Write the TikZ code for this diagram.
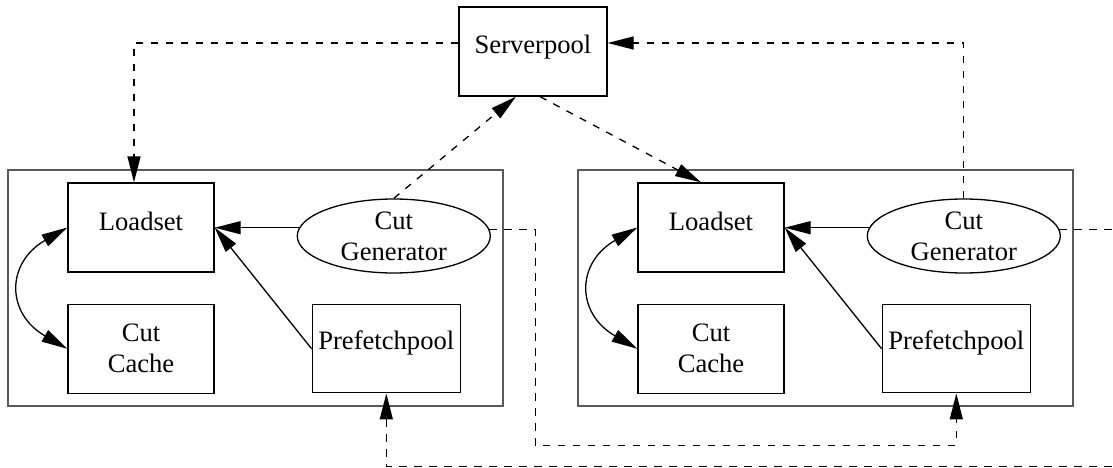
\documentclass[tikz,border=0pt]{standalone}
\usepackage{fontspec}
\setmainfont{Liberation Serif}
\usetikzlibrary{shapes.geometric, arrows.meta, positioning}

\begin{document}
\begin{tikzpicture}[x=0.5pt, y=0.5pt, font=\fontsize{13.3}{15.5}\selectfont,
    hostbox/.style={rectangle, draw=black!65, line width=0.6pt, minimum width=247.5pt,
      minimum height=118pt, inner sep=0pt},
    part/.style={rectangle, draw, line width=0.65pt, minimum width=73pt, minimum height=44.5pt,
      inner sep=0pt, align=center},
    gen/.style={ellipse, draw, line width=0.65pt, minimum width=96.5pt, minimum height=37pt,
      inner sep=0pt, align=center},
    flow/.style={-{Triangle[length=13pt, width=6.5pt]}, line width=0.65pt},
    msg/.style={flow, dash pattern=on 3.6pt off 3.9pt}]

    \path[use as bounding box, clip] (0,0) rectangle (1113,467);

    \node (sp) [part, minimum width=74pt, text height=9.2pt, text depth=7.7pt] at (533,415.5) {Serverpool};

    % two identical hosts
    \foreach \g/\dx in {a/0, b/570} {
      \node (host-\g) [hostbox] at (255.5+\dx,179) {};
      \node (ls-\g) [part, text height=9.2pt, text depth=6.7pt] at (141+\dx,239.5) {Loadset};
      \node (cc-\g) [part, below=15.5pt of ls-\g] {Cut\\Cache};
      \node (pf-\g) [part, minimum width=74pt, minimum height=44pt, text height=9.2pt, text depth=8.2pt,
        right=48.5pt of cc-\g] {Prefetchpool};
      \node (cg-\g) [gen, right=41pt of ls-\g, yshift=-4.25pt] {Cut\\Generator};

      \draw [flow] (cg-\g.175) -- (cg-\g.175 -| ls-\g.east);
      \draw [flow] (pf-\g.west) -- (ls-\g.east);
      \draw [{Triangle[length=13pt, width=6.5pt]}-{Triangle[length=13pt, width=6.5pt]}, line width=0.65pt]
        (ls-\g.west) to[out=210, in=150, looseness=1.5] (cc-\g.west);
    }

    % serverpool traffic
    \draw [msg] ([yshift=4.25pt]sp.west) -| ([xshift=-3.5pt]ls-a.north);
    \draw [msg] (cg-a.north) -- ([xshift=-8.5pt]sp.south);
    \draw [msg] ([xshift=3.5pt]sp.south) -- ([xshift=-5pt]ls-b.north);
    \draw [msg] (cg-b.north) |- ([yshift=4.25pt]sp.east);

    % cut exchange between hosts
    \draw [msg] (cg-a.4) -- ++(23pt,0pt) |- ([yshift=-26pt]pf-b.south) -- (pf-b.south);
    \draw [msg] (cg-b.4) -- ++(40pt,0pt) |- ([yshift=-36.5pt]pf-a.south) -- (pf-a.south);
\end{tikzpicture}
\end{document}
